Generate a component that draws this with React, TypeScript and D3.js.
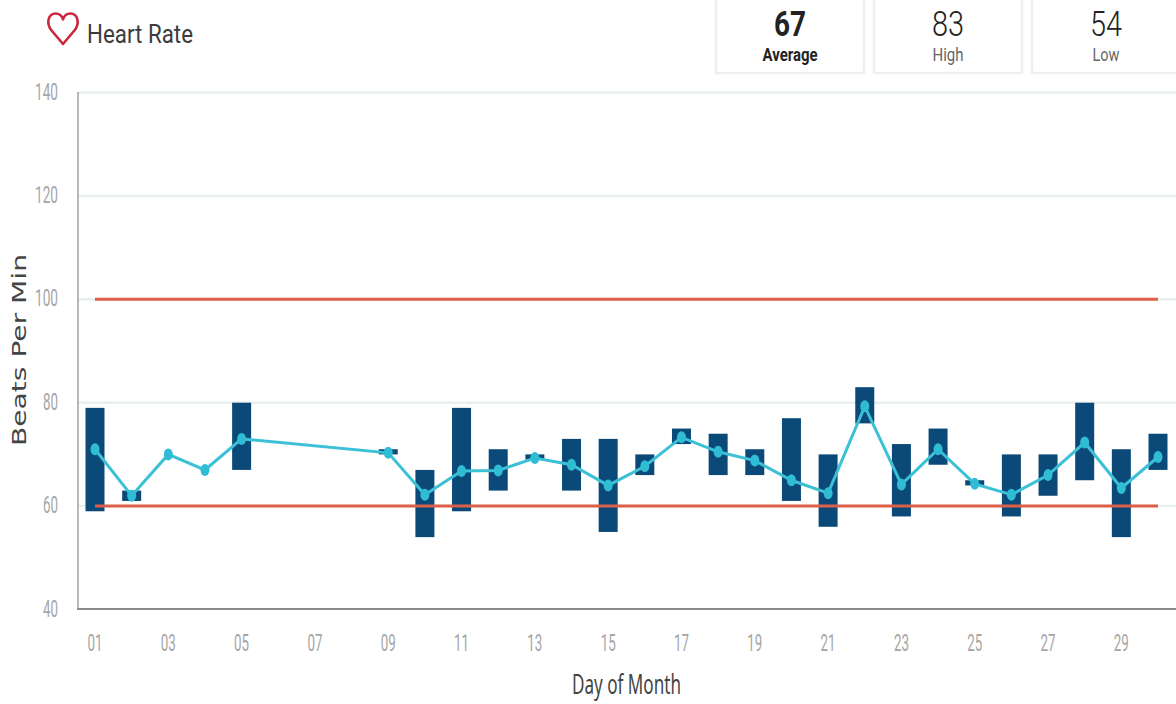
import React from "react";
import * as d3 from "d3";

const days = [1, 2, 3, 4, 5, 9, 10, 11, 12, 13, 14, 15, 16, 17, 18, 19, 20, 21, 22, 23, 24, 25, 26, 27, 28, 29, 30];
const highs = [79, 63, null, null, 80, 71, 67, 79, 71, 70, 73, 73, 70, 75, 74, 71, 77, 70, 83, 72, 75, 65, 70, 70, 80, 71, 74];
const lows = [59, 61, null, null, 67, 70, 54, 59, 63, 69, 63, 55, 66, 72, 66, 66, 61, 56, 76, 58, 68, 64, 58, 62, 65, 54, 67];
const averages = [71, 62, 70, 67, 73, 70.3, 62.2, 66.8, 66.9, 69.3, 68, 64, 67.7, 73.3, 70.5, 68.8, 65, 62.5, 79.3, 64.2, 71, 64.3, 62.2, 66, 72.3, 63.5, 69.5];
const yTicks = [40, 60, 80, 100, 120, 140];
const gridValues = [60, 80, 100, 120, 140];
const limits = [60, 100];
const allDays = d3.range(1, 31);
const xTickDays = allDays.filter((d) => d % 2 === 1);
const stats = [
  { value: "67", label: "Average", bold: true },
  { value: "83", label: "High", bold: false },
  { value: "54", label: "Low", bold: false },
];

const x = d3.scalePoint<number>().domain(allDays).range([95, 1158]);
const y = d3.scaleLinear().domain([40, 140]).range([609.5, 92.5]);
const avgLine = d3
  .line<number>()
  .x((_, i) => x(days[i]) as number)
  .y((d) => y(d));

const label = (d: number) => String(d).padStart(2, "0");
const roboto = "Roboto, sans-serif";

export default function App() {
  return (
    <svg width={1176} height={704} style={{ position: "fixed", left: 0, top: 0, background: "#fff" }}>
      {/* header */}
      <path
        d="M63 44 L52 31 C45 22.5 49 13.5 55.5 13.5 C59 13.5 62 16 63 19.5 C64 16 67 13.5 70.5 13.5 C77 13.5 81 22.5 74 31 Z"
        fill="none"
        stroke="#c9283f"
        strokeWidth={2.6}
        strokeLinejoin="round"
      />
      <text x={87} y={43} fontFamily={roboto} fontSize={25} fontWeight={400} fill="#3c3c3c" textLength={106} lengthAdjust="spacingAndGlyphs">
        Heart Rate
      </text>
      {stats.map((s, i) => {
        const left = 715 + i * 158;
        const cx = left + 75;
        return (
          <g key={s.label}>
            <rect x={left + 1} y={-4} width={148} height={77} fill="#fff" stroke="#edf0f0" strokeWidth={2.5} />
            <text x={cx} y={36} textAnchor="middle" fontFamily={roboto} fontSize={35} fontWeight={s.bold ? 700 : 300} fill={s.bold ? "#222" : "#222"} textLength={32} lengthAdjust="spacingAndGlyphs">
              {s.value}
            </text>
            <text x={cx} y={61} textAnchor="middle" fontFamily={roboto} fontSize={19} fontWeight={s.bold ? 700 : 400} fill={s.bold ? "#222" : "#666"} textLength={s.bold ? 55 : s.label === "High" ? 31 : 27} lengthAdjust="spacingAndGlyphs">
              {s.label}
            </text>
          </g>
        );
      })}

      {/* grid */}
      {gridValues.map((v) => (
        <line key={v} x1={78} x2={1176} y1={y(v)} y2={y(v)} stroke="#e9eeee" strokeWidth={2.5} />
      ))}
      <line x1={78} x2={78} y1={92} y2={609} stroke="#a0a0a0" strokeWidth={1.5} />
      <line x1={77} x2={1176} y1={609} y2={609} stroke="#8c8c8c" strokeWidth={2} />

      {/* axis labels */}
      {yTicks.map((v) => (
        <text key={v} x={58} y={y(v) + 7} textAnchor="end" fontFamily={roboto} fontSize={23} fontWeight={400} fill="#a6a6a6" textLength={v >= 100 ? 23 : 15} lengthAdjust="spacingAndGlyphs">
          {v}
        </text>
      ))}
      {xTickDays.map((d) => (
        <text key={d} x={x(d) as number} y={651} textAnchor="middle" fontFamily={roboto} fontSize={23} fontWeight={400} fill="#a6a6a6" textLength={15} lengthAdjust="spacingAndGlyphs">
          {label(d)}
        </text>
      ))}
      <text x={626.5} y={694} textAnchor="middle" fontFamily="'Noto Sans', sans-serif" fontSize={27} fill="#444" textLength={109} lengthAdjust="spacingAndGlyphs">
        Day of Month
      </text>
      <text transform="translate(26,350) rotate(-90)" textAnchor="middle" fontFamily="'DejaVu Sans', sans-serif" fontSize={19} fill="#444" textLength={192} lengthAdjust="spacingAndGlyphs">
        Beats Per Min
      </text>

      {/* range bars */}
      {days.map((d, i) =>
        highs[i] == null || lows[i] == null ? null : (
          <rect
            key={d}
            x={(x(d) as number) - 9.5}
            y={y(highs[i] as number)}
            width={19}
            height={y(lows[i] as number) - y(highs[i] as number)}
            fill="#0b4a78"
          />
        )
      )}

      {/* limit lines */}
      {limits.map((v) => (
        <line key={v} x1={x(1)} x2={x(30)} y1={y(v)} y2={y(v)} stroke="#dc5f48" strokeWidth={3} />
      ))}

      {/* average line */}
      <path d={avgLine(averages) as string} fill="none" stroke="#3cc0d6" strokeWidth={3} />
      {averages.map((v, i) => (
        <ellipse key={days[i]} cx={x(days[i])} cy={y(v)} rx={4.5} ry={6} fill="#2fbdd6" />
      ))}
    </svg>
  );
}
